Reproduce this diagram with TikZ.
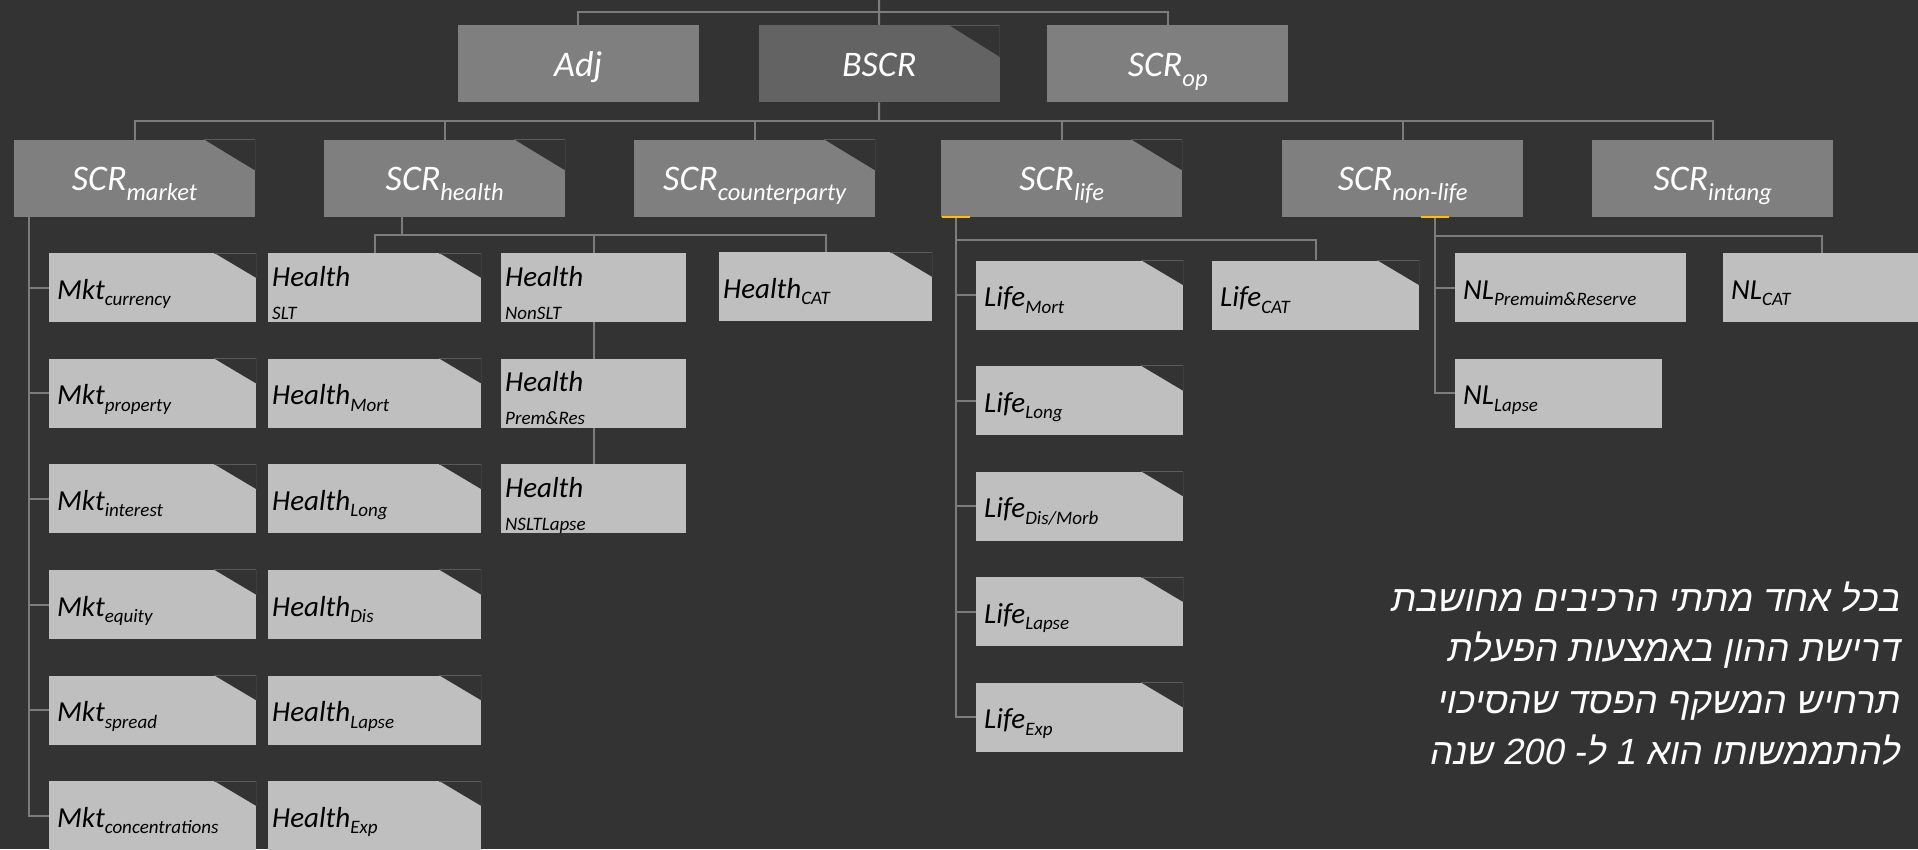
\documentclass[tikz,border=0pt]{standalone}
\usepackage{fontspec}
\setmainfont{Carlito}
\newfontfamily\hebfont[Script=Hebrew,FakeSlant=0.2]{Liberation Sans}
\TeXXeTstate=1
\usetikzlibrary{calc}

\definecolor{bgc}{HTML}{333333}
\definecolor{midbox}{HTML}{7F7F7F}
\definecolor{darkbox}{HTML}{636363}
\definecolor{lightbox}{HTML}{BFBFBF}
\definecolor{wirec}{HTML}{7C7C7C}
\definecolor{rimtop}{HTML}{5A5A5A}
\definecolor{rimside}{HTML}{3E3E3E}
\definecolor{markyel}{HTML}{FFC000}

% subscripts for the two box sizes, and a second line under a small box label
\newcommand\subA[1]{\raisebox{-10pt}{\fontsize{24.5}{26}\selectfont #1}}
\newcommand\subB[1]{\raisebox{-6.5pt}{\fontsize{19}{21}\selectfont #1}}
\newcommand\lowline[1]{\rlap{\raisebox{-33pt}{\fontsize{19}{21}\selectfont #1}}}

% snipped top-right corner: background triangle plus a faint rim
\newcommand\snip[3]{%
  \fill[bgc] (#1.north east) -- ++(-#2,0) -- ++(#2,#3) -- cycle;
  \draw[rimtop,line width=1pt] (#1.north east) -- ++(-#2,0);
  \draw[rimside,line width=1pt] (#1.north east) -- ++(0,#3);
}

\tikzset{
  bigbox/.style={rectangle, inner sep=0pt, minimum width=241pt, minimum height=77pt,
    fill=midbox, text=white, font=\fontsize{36}{40}\selectfont\itshape,
    text height=25pt, text depth=0pt, anchor=north west},
  smallbox/.style={rectangle, inner xsep=8pt, inner ysep=0pt, minimum height=69pt,
    fill=lightbox, text=black, font=\fontsize{29}{32}\selectfont\itshape,
    text height=23pt, text depth=0pt, align=left, anchor=north west},
  hpad/.style={inner xsep=4pt},
  twoline/.style={text height=0pt, text depth=3pt},
  wire/.style={draw=wirec, line width=2pt},
  hebline/.style={inner sep=0pt, anchor=base east, text=white,
    font=\hebfont\fontsize{36.5}{40}\selectfont},
}

\begin{document}
\begin{tikzpicture}[x=1pt, y=-1pt]
\useasboundingbox (0,0) rectangle (1918,849);
\fill[bgc] (0,0) rectangle (1918,849);
\clip (0,0) rectangle (1918,849);

% top row
\node[bigbox] (adj) at (457.5,25) {Adj};
\node[bigbox, fill=darkbox] (bscr) at (758.5,25) {BSCR};
\node[bigbox] (scrop) at (1047,25) {SCR\subA{op}};

% risk modules
\node[bigbox] (market) at (13.8,139.5) {SCR\subA{market}};
\node[bigbox] (health) at (324,139.5) {SCR\subA{health}};
\node[bigbox] (counter) at (634,139.5) {SCR\subA{counterparty}};
\node[bigbox] (life) at (941,139.5) {SCR\subA{life}};
\node[bigbox] (nonlife) at (1282,139.5) {SCR\subA{non-life}};
\node[bigbox] (intang) at (1592,139.5) {SCR\subA{intang}};

% market sub-modules
\node[smallbox, text width=191pt] (mkt1) at (49,253) {Mkt\subB{currency}};
\node[smallbox, text width=191pt] (mkt2) at (49,358.6) {Mkt\subB{property}};
\node[smallbox, text width=191pt] (mkt3) at (49,464.2) {Mkt\subB{interest}};
\node[smallbox, text width=191pt] (mkt4) at (49,569.8) {Mkt\subB{equity}};
\node[smallbox, text width=191pt] (mkt5) at (49,675.4) {Mkt\subB{spread}};
\node[smallbox, text width=191pt] (mkt6) at (49,781) {Mkt\subB{concentrations}};

% health sub-modules
\node[smallbox, hpad, twoline, text width=205pt] (hslt) at (268,253) {\lowline{SLT}Health};
\node[smallbox, hpad, text width=205pt] (hmort) at (268,358.6) {Health\subB{Mort}};
\node[smallbox, hpad, text width=205pt] (hlong) at (268,464.2) {Health\subB{Long}};
\node[smallbox, hpad, text width=205pt] (hdis) at (268,569.8) {Health\subB{Dis}};
\node[smallbox, hpad, text width=205pt] (hlapse) at (268,675.4) {Health\subB{Lapse}};
\node[smallbox, hpad, text width=205pt] (hexp) at (268,781) {Health\subB{Exp}};
\node[smallbox, hpad, twoline, text width=177pt] (hnon1) at (501,253) {\lowline{NonSLT}Health};
\node[smallbox, hpad, twoline, text width=177pt] (hnon2) at (501,358.6) {\lowline{Prem\&Res}Health};
\node[smallbox, hpad, twoline, text width=177pt] (hnon3) at (501,464.2) {\lowline{NSLTLapse}Health};
\node[smallbox, hpad, text width=205pt] (hcat) at (719,252) {Health\subB{CAT}};

% life sub-modules
\node[smallbox, text width=191pt] (life1) at (976,260.3) {Life\subB{Mort}};
\node[smallbox, text width=191pt] (life2) at (976,365.9) {Life\subB{Long}};
\node[smallbox, text width=191pt] (life3) at (976,471.5) {Life\subB{Dis/Morb}};
\node[smallbox, text width=191pt] (life4) at (976,577.1) {Life\subB{Lapse}};
\node[smallbox, text width=191pt] (life5) at (976,682.7) {Life\subB{Exp}};
\node[smallbox, text width=191pt] (lifecat) at (1212,260.3) {Life\subB{CAT}};

% non-life sub-modules
\node[smallbox, text width=214.5pt] (nl1) at (1455,253) {NL\subB{Premuim\&Reserve}};
\node[smallbox, text width=182pt] (nlcat) at (1723,253) {NL\subB{CAT}};
\node[smallbox, text width=191pt] (nl2) at (1455,358.6) {NL\subB{Lapse}};

% snipped corners
\snip{bscr}{51}{32}
\foreach \n in {market,health,counter,life}{\snip{\n}{51}{31}}
\foreach \n in {mkt1,mkt2,mkt3,mkt4,mkt5,mkt6,hslt,hmort,hlong,hdis,hlapse,hexp,hcat,life1,life2,life3,life4,life5,lifecat}{\snip{\n}{42}{25}}

% connectors: top level
\coordinate (topin) at (879,0);
\coordinate (bar1) at (879,12.3);
\draw[wire] (topin) -- (bscr.north);
\draw[wire] (adj.north) |- (bar1) -| (scrop.north);

% connectors: risk modules
\coordinate (bar2) at (879,121);
\draw[wire] (bscr.south) -- (bar2);
\draw[wire] (market.north) |- (bar2) -| (intang.north);
\foreach \n in {health,counter,life,nonlife}{\draw[wire] (\n.north) -- (\n.north |- bar2);}

% connectors: market
\coordinate (mrail) at ($(market.south west)+(15,0)$);
\draw[wire] (mrail) |- (mkt6.west);
\foreach \i in {1,...,5}{\draw[wire] (mrail |- mkt\i.west) -- (mkt\i.west);}

% connectors: health
\coordinate (hdrop) at ($(health.south west)+(78,0)$);
\coordinate (hbar) at ($(hdrop)+(0,18)$);
\draw[wire] (hdrop) -- (hbar);
\draw[wire] (hslt.north) |- (hbar) -| (hcat.north);
\draw[wire] (hnon1.north) -- (hnon1.north |- hbar);
\draw[wire] (hnon1.south) -- (hnon2.north);
\draw[wire] (hnon2.south) -- (hnon3.north);

% connectors: life
\coordinate (lrail) at ($(life.south west)+(14.5,0)$);
\coordinate (lbar) at ($(lrail)+(0,22.6)$);
\draw[wire] (lrail) |- (life5.west);
\foreach \i in {1,...,4}{\draw[wire] (lrail |- life\i.west) -- (life\i.west);}
\draw[wire] (lbar) -| (lifecat.north);

% connectors: non-life
\coordinate (nrail) at ($(nonlife.south west)+(153,0)$);
\coordinate (nbar) at ($(nrail)+(0,19)$);
\draw[wire] (nrail) |- (nl2.west);
\draw[wire] (nrail |- nl1.west) -- (nl1.west);
\draw[wire] (nbar) -| (nlcat.north);

% small marks under the life and non-life boxes
\draw[markyel, line width=2pt] ($(lrail)+(-14,0)$) -- ($(lrail)+(14,0)$);
\draw[markyel, line width=2pt] ($(nrail)+(-14,0)$) -- ($(nrail)+(14,0)$);

% note
\node[hebline] (heb1) at (1899,611.7) {\beginR בכל אחד מתתי הרכיבים מחושבת\endR};
\node[hebline] (heb2) at (1899,661.7) {\beginR דרישת ההון באמצעות הפעלת\endR};
\node[hebline] (heb3) at (1899,713) {\beginR תרחיש המשקף הפסד שהסיכוי\endR};
\node[hebline] (heb4) at (1899,764) {\beginR להתממשותו הוא \beginL 1\endL{} ל- \beginL 200\endL{} שנה\endR};
\end{tikzpicture}
\end{document}
